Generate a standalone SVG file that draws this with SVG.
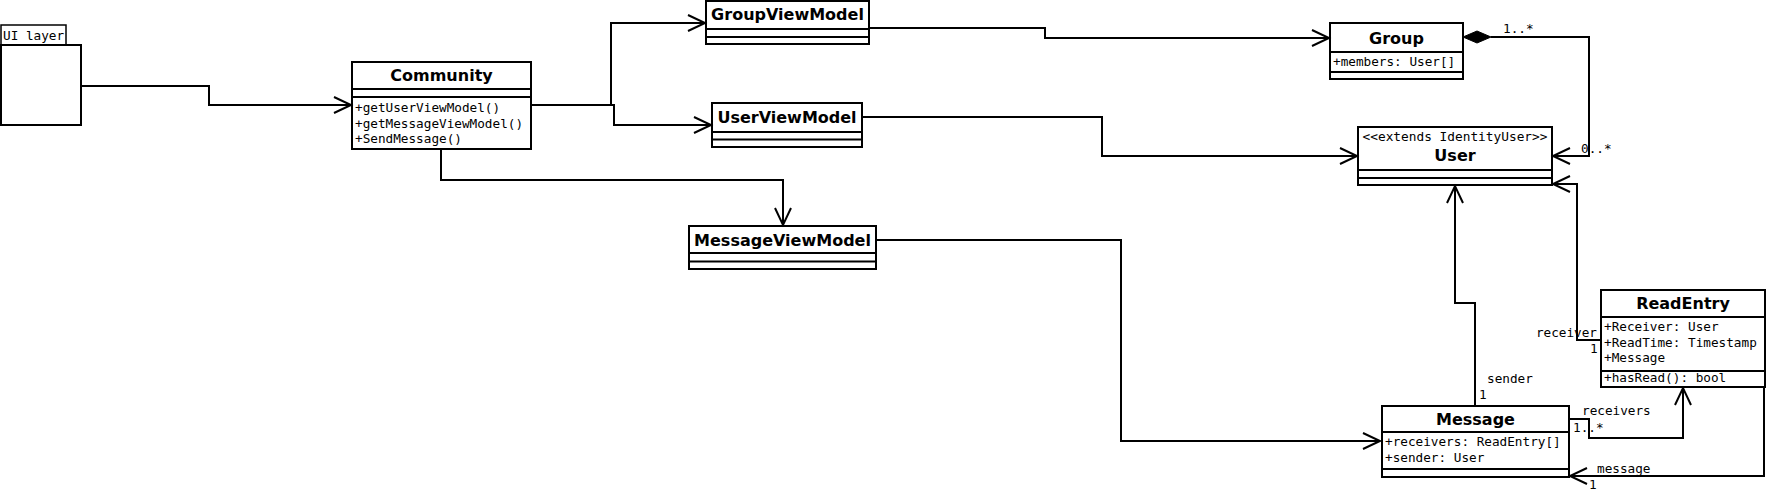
<svg xmlns="http://www.w3.org/2000/svg" width="1772" height="494" viewBox="0 0 1772 494">
<style>
.box{fill:#fff;stroke:#000;stroke-width:2}
.sep{stroke:#000;stroke-width:2}
.title{font-family:"DejaVu Sans",Verdana,sans-serif;font-weight:bold;font-size:16px;text-anchor:middle;fill:#000}
.mono{font-family:"DejaVu Sans Mono","Liberation Mono",monospace;font-size:12.7px;fill:#000}
.stereo{font-family:"DejaVu Sans Mono","Liberation Mono",monospace;font-size:12.8px;text-anchor:middle;fill:#000}
.conn{fill:none;stroke:#000;stroke-width:2}
.lbl{font-family:"DejaVu Sans Mono","Liberation Mono",monospace;font-size:12.7px;fill:#000}
</style>
<defs>
<marker id="open" markerUnits="userSpaceOnUse" markerWidth="22" markerHeight="22" refX="17" refY="9" orient="auto" overflow="visible">
<path d="M0,1 L17,9 L0,17" fill="none" stroke="#000" stroke-width="2"/>
</marker>
</defs>
<rect width="1772" height="494" fill="#fff"/>

<g id="ui-layer">
<rect x="1" y="25" width="65" height="20" fill="#fff" stroke="#000" stroke-width="1.5"/>
<rect class="box" x="1" y="45" width="80" height="80"/>
<text class="mono" x="3" y="40">UI layer</text>
</g>

<g id="community">
<rect class="box" x="352" y="62" width="179" height="87"/>
<line class="sep" x1="352" y1="89" x2="531" y2="89"/>
<line class="sep" x1="352" y1="97" x2="531" y2="97"/>
<text class="title" x="441.5" y="81">Community</text>
<text class="mono" x="355" y="112">+getUserViewModel()</text>
<text class="mono" x="355" y="127.5">+getMessageViewModel()</text>
<text class="mono" x="355" y="143">+SendMessage()</text>
</g>

<g id="groupviewmodel">
<rect class="box" x="706" y="1" width="163" height="43"/>
<line class="sep" x1="706" y1="29" x2="869" y2="29"/>
<line class="sep" x1="706" y1="37" x2="869" y2="37"/>
<text class="title" x="787.5" y="20">GroupViewModel</text>
</g>

<g id="userviewmodel">
<rect class="box" x="712" y="103" width="150" height="44"/>
<line class="sep" x1="712" y1="132" x2="862" y2="132"/>
<line class="sep" x1="712" y1="139.5" x2="862" y2="139.5"/>
<text class="title" x="787" y="123">UserViewModel</text>
</g>

<g id="messageviewmodel">
<rect class="box" x="689" y="226" width="187" height="43"/>
<line class="sep" x1="689" y1="253" x2="876" y2="253"/>
<line class="sep" x1="689" y1="261.5" x2="876" y2="261.5"/>
<text class="title" x="782.5" y="246">MessageViewModel</text>
</g>

<g id="group">
<rect class="box" x="1330" y="23" width="133" height="56"/>
<line class="sep" x1="1330" y1="52" x2="1463" y2="52"/>
<line class="sep" x1="1330" y1="72" x2="1463" y2="72"/>
<text class="title" x="1396.5" y="43.5">Group</text>
<text class="mono" x="1333" y="66">+members: User[]</text>
</g>

<g id="user">
<rect class="box" x="1358" y="127" width="194" height="58"/>
<line class="sep" x1="1358" y1="170" x2="1552" y2="170"/>
<line class="sep" x1="1358" y1="178" x2="1552" y2="178"/>
<text class="stereo" x="1455" y="141">&lt;&lt;extends IdentityUser&gt;&gt;</text>
<text class="title" x="1455" y="161">User</text>
</g>

<g id="readentry">
<rect class="box" x="1601" y="290" width="164" height="97"/>
<line class="sep" x1="1601" y1="317" x2="1765" y2="317"/>
<line class="sep" x1="1601" y1="371" x2="1765" y2="371"/>
<text class="title" x="1683" y="309">ReadEntry</text>
<text class="mono" x="1604" y="331">+Receiver: User</text>
<text class="mono" x="1604" y="346.5">+ReadTime: Timestamp</text>
<text class="mono" x="1604" y="362">+Message</text>
<text class="mono" x="1604" y="382">+hasRead(): bool</text>
</g>

<g id="message">
<rect class="box" x="1382" y="406" width="187" height="71"/>
<line class="sep" x1="1382" y1="432" x2="1569" y2="432"/>
<line class="sep" x1="1382" y1="469" x2="1569" y2="469"/>
<text class="title" x="1475.5" y="425">Message</text>
<text class="mono" x="1385" y="446">+receivers: ReadEntry[]</text>
<text class="mono" x="1385" y="462">+sender: User</text>
</g>

<g id="connectors">
<path class="conn" d="M81,86 H209 V105 H351" marker-end="url(#open)"/>
<path class="conn" d="M531,105 H611 V23 H705" marker-end="url(#open)"/>
<path class="conn" d="M531,105 H614 V125 H711" marker-end="url(#open)"/>
<path class="conn" d="M441,149 V180 H783 V225" marker-end="url(#open)"/>
<path class="conn" d="M869,28 H1045 V38 H1329" marker-end="url(#open)"/>
<path class="conn" d="M862,117 H1102 V156 H1357" marker-end="url(#open)"/>
<path d="M1463,37 L1477,31 L1491,37 L1477,43 Z" fill="#000" stroke="#000" stroke-width="1"/>
<path class="conn" d="M1491,37 H1589 V156 H1553" marker-end="url(#open)"/>
<path class="conn" d="M876,240 H1121 V441 H1380" marker-end="url(#open)"/>
<path class="conn" d="M1475,406 V303 H1455 V186" marker-end="url(#open)"/>
<path class="conn" d="M1601,340 H1577 V184 H1553" marker-end="url(#open)"/>
<path class="conn" d="M1569,419 H1589 V438 H1683 V388" marker-end="url(#open)"/>
<path class="conn" d="M1764,387 V476 H1570" marker-end="url(#open)"/>
<text class="lbl" x="1503" y="33">1..*</text>
<text class="lbl" x="1581" y="153">0..*</text>
<text class="lbl" x="1597" y="337" text-anchor="end">receiver</text>
<text class="lbl" x="1590" y="353">1</text>
<text class="lbl" x="1487" y="383">sender</text>
<text class="lbl" x="1479" y="399">1</text>
<text class="lbl" x="1582" y="415">receivers</text>
<text class="lbl" x="1573" y="432">1..*</text>
<text class="lbl" x="1597" y="473">message</text>
<text class="lbl" x="1589" y="489">1</text>
</g>
</svg>
